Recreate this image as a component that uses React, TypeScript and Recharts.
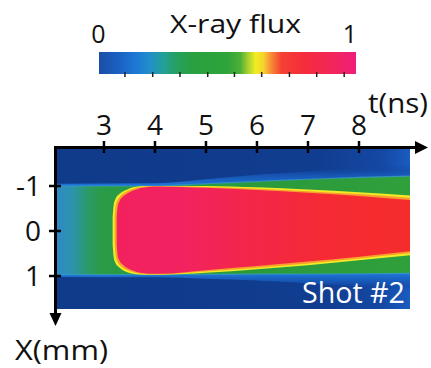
import React from "react";
import { ComposedChart, Area, XAxis, YAxis } from "recharts";

const FONT = "'Open Sans', 'Noto Sans', sans-serif";

// Axis ticks
const timeTicks = [3, 4, 5, 6, 7, 8];
const posTicks = [-1, 0, 1];
const timeDomain: [number, number] = [2.04, 9.0];
const posDomain: [number, number] = [-1.844, 1.733];

// Colour-bar tick positions (fraction of the bar length)
const fluxTicks = [0.101, 0.209, 0.315, 0.423, 0.527, 0.633, 0.741, 0.847, 0.954];

// Field of view (background)
const fieldT = [2.04, 9.0];
const fieldTop = [-1.844, -1.844];
const fieldBottom = [1.733, 1.733];

// Gas channel (green band) edges in mm
const channelT = [2.04, 4, 5, 6, 7, 8, 9];
const channelTop = [-1.0, -1.0, -1.05, -1.1, -1.15, -1.19, -1.22];
const channelBottom = [0.97, 0.97, 0.965, 0.96, 0.955, 0.95, 0.94];

// Faint emission just outside the channel
const upperGlowTop = [-1.05, -1.06, -1.15, -1.25, -1.33, -1.4, -1.46];
const lowerGlowBottom = [1.02, 1.03, 1.06, 1.1, 1.16, 1.24, 1.32];

// Bright plasma column: outer (yellow) rim, mid (orange) rim, core (red)
const rimT = [3.17, 3.19, 3.22, 3.29, 3.37, 3.47, 3.57, 3.7, 3.85, 4.1, 5, 6, 7, 8, 9];
const rimTop = [-0.3, -0.58, -0.7, -0.81, -0.88, -0.93, -0.97, -0.995, -1.0, -1.0, -1.0, -0.97, -0.92, -0.86, -0.79];
const rimBottom = [0.3, 0.58, 0.7, 0.8, 0.87, 0.92, 0.95, 0.965, 0.97, 0.97, 0.93, 0.85, 0.76, 0.65, 0.54];

const midT = [3.21, 3.23, 3.26, 3.33, 3.41, 3.51, 3.61, 3.72, 3.87, 4.1, 5, 6, 7, 8, 9];
const midTop = [-0.3, -0.56, -0.67, -0.785, -0.855, -0.91, -0.95, -0.978, -0.993, -0.995, -0.98, -0.94, -0.885, -0.82, -0.74];
const midBottom = [0.3, 0.56, 0.67, 0.775, 0.845, 0.895, 0.93, 0.95, 0.96, 0.96, 0.9, 0.815, 0.72, 0.61, 0.495];

const coreT = [3.25, 3.27, 3.3, 3.37, 3.45, 3.55, 3.65, 3.75, 3.9, 4.1, 5, 6, 7, 8, 9];
const coreTop = [-0.3, -0.55, -0.65, -0.76, -0.83, -0.89, -0.93, -0.96, -0.985, -0.99, -0.96, -0.91, -0.85, -0.78, -0.69];
const coreBottom = [0.3, 0.55, 0.65, 0.75, 0.82, 0.87, 0.91, 0.935, 0.95, 0.95, 0.87, 0.78, 0.68, 0.57, 0.45];

const band = (t: number[], lo: number[], hi: number[]) =>
  t.map((v, i) => ({ t: v, x: [lo[i], hi[i]] }));

const fieldData = band(fieldT, fieldTop, fieldBottom);
const channelData = band(channelT, channelTop, channelBottom);
const upperGlowData = band(channelT, upperGlowTop, channelTop);
const lowerGlowData = band(channelT, channelBottom, lowerGlowBottom);
const rimData = band(rimT, rimTop, rimBottom);
const midData = band(midT, midTop, midBottom);
const coreData = band(coreT, coreTop, coreBottom);

const TimeTick = (props: any) => {
  const { x, payload } = props;
  return (
    <g>
      <line x1={x} x2={x} y1={141} y2={153} stroke="#000" strokeWidth={2.5} />
      <text x={x} y={135} textAnchor="middle" fontSize={28} fontFamily={FONT} fill="#111">
        {payload.value}
      </text>
    </g>
  );
};

const PosTick = (props: any) => {
  const { y, payload } = props;
  return (
    <g>
      <line x1={49} x2={61} y1={y} y2={y} stroke="#000" strokeWidth={2.5} />
      <text x={41} y={y + 10} textAnchor="end" fontSize={28} fontFamily={FONT} fill="#111">
        {String(payload.value)}
      </text>
    </g>
  );
};

export default function App() {
  return (
    <div style={{ position: "absolute", left: 0, top: 0, width: 431, height: 368, background: "#fff" }}>
      <style>{`.plume-layer .recharts-area-area { filter: blur(0.6px); }`}</style>
      <ComposedChart
        className="plume-layer"
        width={431}
        height={368}
        margin={{ top: 118, right: 21, bottom: 59, left: 10 }}
      >
        <XAxis
          type="number"
          dataKey="t"
          orientation="top"
          domain={timeDomain}
          ticks={timeTicks}
          height={30}
          axisLine={false}
          tickLine={false}
          tick={TimeTick}
          allowDataOverflow
        />
        <YAxis
          type="number"
          domain={posDomain}
          ticks={posTicks}
          reversed
          width={45}
          axisLine={false}
          tickLine={false}
          tick={PosTick}
          allowDataOverflow
        />
        <Area data={fieldData} dataKey="x" type="linear" fill="url(#fieldFill)" fillOpacity={1} stroke="none" isAnimationActive={false} />
        <Area data={upperGlowData} dataKey="x" type="monotone" fill="url(#upperGlow)" fillOpacity={1} stroke="none" isAnimationActive={false} />
        <Area data={lowerGlowData} dataKey="x" type="monotone" fill="url(#lowerGlow)" fillOpacity={1} stroke="none" isAnimationActive={false} />
        <Area data={channelData} dataKey="x" type="monotone" fill="url(#channelFill)" fillOpacity={1} stroke="#3aa0d0" strokeWidth={1.2} strokeOpacity={0.7} isAnimationActive={false} />
        <Area data={rimData} dataKey="x" type="monotone" fill="#f2ea26" fillOpacity={1} stroke="none" isAnimationActive={false} />
        <Area data={midData} dataKey="x" type="monotone" fill="#f8a02e" fillOpacity={1} stroke="none" isAnimationActive={false} />
        <Area data={coreData} dataKey="x" type="monotone" fill="url(#coreFill)" fillOpacity={1} stroke="none" isAnimationActive={false} />
      </ComposedChart>

      <svg
        width={431}
        height={368}
        style={{ position: "absolute", left: 0, top: 0, pointerEvents: "none" }}
      >
        <defs>
          <linearGradient id="fieldFill" x1="0" y1="0" x2="1" y2="0">
            <stop offset="0" stopColor="#103a8a" />
            <stop offset="0.75" stopColor="#113d90" />
            <stop offset="0.92" stopColor="#1448a4" />
            <stop offset="1" stopColor="#1a5cc0" />
          </linearGradient>
          <linearGradient id="upperGlow" x1="0" y1="0" x2="0" y2="1">
            <stop offset="0" stopColor="#113d90" stopOpacity={0} />
            <stop offset="0.45" stopColor="#1858b8" stopOpacity={0.8} />
            <stop offset="1" stopColor="#2078d8" stopOpacity={1} />
          </linearGradient>
          <linearGradient id="lowerGlow" x1="0" y1="0" x2="0" y2="1">
            <stop offset="0" stopColor="#2078d8" stopOpacity={1} />
            <stop offset="0.55" stopColor="#1858b8" stopOpacity={0.8} />
            <stop offset="1" stopColor="#113d90" stopOpacity={0} />
          </linearGradient>
          <linearGradient id="channelFill" x1="0" y1="0" x2="1" y2="0">
            <stop offset="0" stopColor="#3088c8" />
            <stop offset="0.05" stopColor="#2c94ac" />
            <stop offset="0.09" stopColor="#2a9a6a" />
            <stop offset="0.13" stopColor="#2a9b46" />
            <stop offset="0.6" stopColor="#2a9a3c" />
            <stop offset="1" stopColor="#30a03c" />
          </linearGradient>
          <linearGradient id="coreFill" x1="0" y1="0" x2="1" y2="0">
            <stop offset="0" stopColor="#f2215e" />
            <stop offset="0.2" stopColor="#f22262" />
            <stop offset="0.45" stopColor="#f3264a" />
            <stop offset="0.7" stopColor="#f52a34" />
            <stop offset="1" stopColor="#f52c2c" />
          </linearGradient>
          <linearGradient id="fluxBar" x1="0" y1="0" x2="1" y2="0">
            <stop offset="0" stopColor="#1b4ea6" />
            <stop offset="0.08" stopColor="#1a62c4" />
            <stop offset="0.15" stopColor="#1e7ad6" />
            <stop offset="0.2" stopColor="#2290c8" />
            <stop offset="0.25" stopColor="#22a098" />
            <stop offset="0.3" stopColor="#26a060" />
            <stop offset="0.36" stopColor="#2aa042" />
            <stop offset="0.5" stopColor="#2ea43a" />
            <stop offset="0.55" stopColor="#4cb034" />
            <stop offset="0.58" stopColor="#a8d030" />
            <stop offset="0.61" stopColor="#f2ee22" />
            <stop offset="0.64" stopColor="#f7d22e" />
            <stop offset="0.67" stopColor="#f78a36" />
            <stop offset="0.71" stopColor="#f54034" />
            <stop offset="0.8" stopColor="#f52c3c" />
            <stop offset="0.9" stopColor="#f32658" />
            <stop offset="1" stopColor="#ef1e7a" />
          </linearGradient>
        </defs>

        {/* colour bar */}
        <text x={170} y={33} fontSize={25} fontFamily={FONT} fill="#111" textLength={131} lengthAdjust="spacingAndGlyphs">
          X-ray flux
        </text>
        <text x={98.5} y={43} textAnchor="middle" fontSize={25} fontFamily={FONT} fill="#111">0</text>
        <text x={350} y={43} textAnchor="middle" fontSize={25} fontFamily={FONT} fill="#111">1</text>
        <rect x={99} y={52} width={257} height={22} fill="url(#fluxBar)" />
        {fluxTicks.map((f) => (
          <line key={f} x1={99 + f * 257} x2={99 + f * 257} y1={72} y2={77} stroke="#222" strokeWidth={1.5} />
        ))}

        {/* axes with arrow heads */}
        <line x1={54} x2={418} y1={147.5} y2={147.5} stroke="#000" strokeWidth={3} />
        <polygon points="428,147.5 415,141 415,154" fill="#000" />
        <line x1={55.5} x2={55.5} y1={146} y2={316} stroke="#000" strokeWidth={3} />
        <polygon points="55.5,326 49.5,313 61.5,313" fill="#000" />

        <text x={368} y={113} fontSize={28} fontFamily={FONT} fill="#111" textLength={60} lengthAdjust="spacingAndGlyphs">
          t(ns)
        </text>
        <text x={15} y={360} fontSize={28} fontFamily={FONT} fill="#111" textLength={93} lengthAdjust="spacingAndGlyphs">
          X(mm)
        </text>
        <text x={302} y={303} fontSize={29} fontFamily={FONT} fill="#fff" textLength={103} lengthAdjust="spacingAndGlyphs">
          Shot #2
        </text>
      </svg>
    </div>
  );
}
